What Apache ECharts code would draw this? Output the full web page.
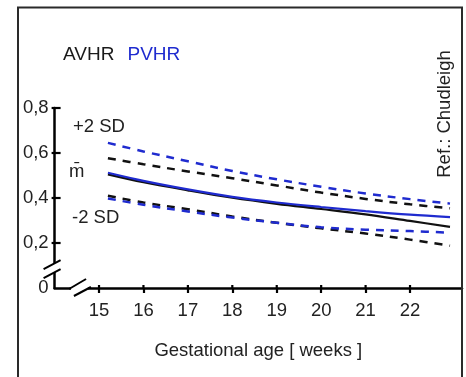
<!DOCTYPE html>
<html>
<head>
<meta charset="utf-8">
<script src="https://cdn.jsdelivr.net/npm/echarts@6/dist/echarts.min.js"></script>
<style>
  html, body { margin: 0; padding: 0; background: #fff; }
  #chart { width: 466px; height: 377px; }
</style>
</head>
<body>
<div id="chart"></div>
<script>
// Gestational age (weeks) at which each reference curve is sampled
const weeks = [15.2, 16, 17, 18, 19, 20, 21, 22, 22.9];

// AVHR reference curves (mean and ±2 SD)
const avhrUpper = [0.577, 0.550, 0.518, 0.488, 0.456, 0.424, 0.396, 0.372, 0.354];
const avhrMean  = [0.505, 0.470, 0.434, 0.401, 0.374, 0.351, 0.327, 0.298, 0.272];
const avhrLower = [0.410, 0.380, 0.350, 0.318, 0.290, 0.265, 0.242, 0.215, 0.188];

// PVHR reference curves (mean and ±2 SD)
const pvhrUpper = [0.645, 0.607, 0.563, 0.520, 0.483, 0.450, 0.420, 0.395, 0.375];
const pvhrMean  = [0.512, 0.476, 0.438, 0.405, 0.380, 0.360, 0.342, 0.326, 0.315];
const pvhrLower = [0.398, 0.370, 0.340, 0.313, 0.290, 0.270, 0.259, 0.253, 0.246];

// Axis ticks and labels
const xTicks = [15, 16, 17, 18, 19, 20, 21, 22];
const yTicks = [0.2, 0.4, 0.6, 0.8];
const yLabels = [0, 0.2, 0.4, 0.6, 0.8];

const BLUE = '#1f2bcf';
const BLACK = '#111111';
const FONT = '"Liberation Sans", Arial, sans-serif';
const FS = 18.5;

const pairs = ys => weeks.map((w, i) => [w, ys[i]]);

function curve(name, ys, color, dashed) {
  return {
    name: name,
    type: 'line',
    data: pairs(ys),
    smooth: 0.35,
    symbol: 'none',
    z: dashed ? 2 : 3,
    lineStyle: {
      color: color,
      width: dashed ? 2.5 : 2.2,
      type: dashed ? [8, 7] : 'solid',
      cap: 'butt'
    }
  };
}

const chart = echarts.init(document.getElementById('chart'), null, { renderer: 'canvas' });

const option = {
  animation: false,
  backgroundColor: '#ffffff',
  textStyle: { fontFamily: FONT },
  grid: { left: 54.6, top: 108, width: 407.4, height: 180, containLabel: false },
  xAxis: {
    type: 'value',
    min: 14,
    max: 23.17,
    interval: 1,
    name: 'Gestational age [ weeks ]',
    nameLocation: 'middle',
    nameGap: 53,
    nameTextStyle: { color: '#222', fontSize: FS, fontFamily: FONT },
    axisLine: { show: true, lineStyle: { color: '#000', width: 2.5 } },
    axisTick: { show: true, customValues: xTicks, inside: false, length: 5, lineStyle: { color: '#000', width: 2.2 } },
    axisLabel: { customValues: xTicks, color: '#222', fontSize: FS, fontFamily: FONT, margin: 13 },
    splitLine: { show: false }
  },
  yAxis: {
    type: 'value',
    min: 0,
    max: 0.8,
    interval: 0.2,
    axisLine: { show: true, lineStyle: { color: '#000', width: 2.5 } },
    axisTick: { show: true, customValues: yTicks, inside: true, length: 6, lineStyle: { color: '#000', width: 2.2 } },
    axisLabel: {
      customValues: yLabels,
      color: '#222', fontSize: FS, fontFamily: FONT, margin: 6,
      formatter: v => (v === 0 ? '0' : v.toFixed(1).replace('.', ','))
    },
    splitLine: { show: false }
  },
  series: [
    curve('AVHR +2 SD', avhrUpper, BLACK, true),
    curve('PVHR +2 SD', pvhrUpper, BLUE, true),
    curve('AVHR -2 SD', avhrLower, BLACK, true),
    curve('PVHR -2 SD', pvhrLower, BLUE, true),
    curve('AVHR mean', avhrMean, BLACK, false),
    curve('PVHR mean', pvhrMean, BLUE, false)
  ]
};

chart.setOption(option);

// Axis break marks, placed on the axes through the chart's own scales
const px = (x, y) => chart.convertToPixel({ gridIndex: 0 }, [x, y]);
const yBreakTop = px(14, 0.111);
const yBreakBot = px(14, 0.071);
const xBreakL = px(14.37, 0);
const xBreakR = px(14.75, 0);

const slash = (x1, y1, x2, y2) => ({
  type: 'line',
  shape: { x1: x1, y1: y1, x2: x2, y2: y2 },
  style: { stroke: '#000', lineWidth: 2 },
  z: 20
});

const label = (text, x, y, color, size) => ({
  type: 'text',
  x: x, y: y,
  style: { text: text, fill: color || '#222', font: (size || FS) + 'px ' + FONT, textVerticalAlign: 'middle' },
  z: 20
});

chart.setOption({
  graphic: [
    // outer frame
    { type: 'rect', shape: { x: 18, y: 7.5, width: 444, height: 380 },
      style: { fill: 'none', stroke: '#2a2a2a', lineWidth: 2 }, z: 1 },
    // short crossing stubs so the ticks reach slightly past the axis lines
    ...yTicks.map(v => {
      const p = px(14, v);
      return { type: 'line', shape: { x1: p[0] - 3, y1: p[1], x2: p[0], y2: p[1] },
               style: { stroke: '#000', lineWidth: 2.2 }, z: 20 };
    }),
    ...xTicks.map(v => {
      const p = px(v, 0);
      return { type: 'line', shape: { x1: p[0], y1: p[1] - 3, x2: p[0], y2: p[1] },
               style: { stroke: '#000', lineWidth: 2.2 }, z: 20 };
    }),
    // gaps in the axis lines
    { type: 'rect', shape: { x: yBreakTop[0] - 3, y: yBreakTop[1], width: 6, height: yBreakBot[1] - yBreakTop[1] },
      style: { fill: '#fff' }, z: 15 },
    { type: 'rect', shape: { x: xBreakL[0], y: xBreakL[1] - 3, width: xBreakR[0] - xBreakL[0], height: 6 },
      style: { fill: '#fff' }, z: 15 },
    slash(yBreakTop[0] - 11, yBreakTop[1] + 6, yBreakTop[0] + 6, yBreakTop[1] - 3),
    slash(yBreakBot[0] - 11, yBreakBot[1] + 6, yBreakBot[0] + 6, yBreakBot[1] - 3),
    slash(xBreakL[0] - 2, xBreakL[1] + 1, xBreakL[0] + 15, xBreakL[1] - 9),
    slash(xBreakR[0] - 14, xBreakR[1] + 8, xBreakR[0] + 3, xBreakR[1] - 1),
    // legend-style captions
    label('AVHR', 63, 55, '#1a1a1a', 19),
    label('PVHR', 127.5, 55, BLUE, 19),
    label('+2 SD', 73, 127),
    label('m\u0304', 69, 172),
    label('-2 SD', 72, 218),
    // reference note, reading bottom to top
    { type: 'text', x: 445, y: 114, rotation: Math.PI / 2,
      style: { text: 'Ref.: Chudleigh', fill: '#222', font: FS + 'px ' + FONT,
               textAlign: 'center', textVerticalAlign: 'middle' }, z: 20 }
  ]
});
</script>
</body>
</html>
